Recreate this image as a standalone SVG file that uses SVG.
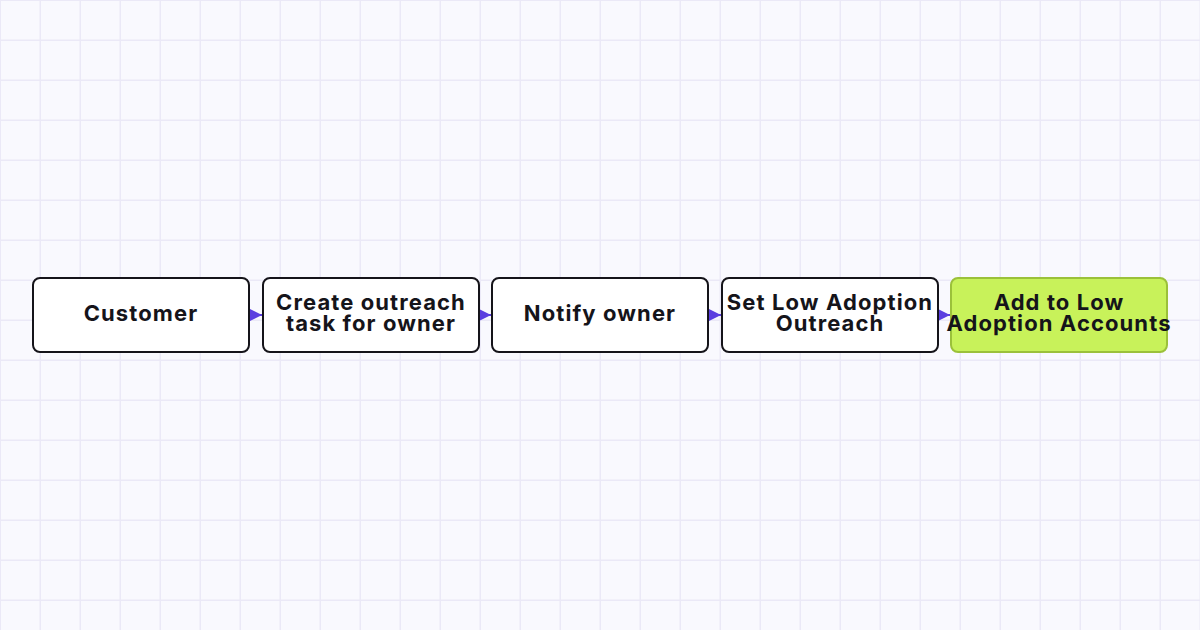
<svg xmlns="http://www.w3.org/2000/svg" width="1200" height="630" viewBox="0 0 1200 630">
<defs>
<pattern id="grid" width="40" height="40" patternUnits="userSpaceOnUse">
<rect width="40" height="40" fill="#f9f9fe"/>
<path d="M40 0V40M0 40H40" fill="none" stroke="#ebe9f7" stroke-width="1"/>
<path d="M0.5 0V40M0 0.5H40" fill="none" stroke="#ebe9f7" stroke-width="1"/>
</pattern>
<marker id="arr" viewBox="0 0 10 10" refX="10" refY="5" markerWidth="12" markerHeight="12" markerUnits="userSpaceOnUse" orient="auto">
<path d="M0 0L10 5L0 10Z" fill="#5b3fe0"/>
</marker>
</defs>
<style>
.n{fill:#fff;stroke:#15141a;stroke-width:2}
.g{fill:#c8f25a;stroke:#9bc13a;stroke-width:2}
.t{font-family:Inter,"Liberation Sans",sans-serif;font-weight:700;font-size:22px;letter-spacing:1.1px;fill:#15141a;text-anchor:middle}
.c{stroke:#5b3fe0;stroke-width:2;fill:none}
</style>
<rect width="1200" height="630" fill="url(#grid)"/>
<g id="connectors">
<path class="c" d="M249 315H262" marker-end="url(#arr)"/>
<path class="c" d="M479 315H491" marker-end="url(#arr)"/>
<path class="c" d="M708 315H721" marker-end="url(#arr)"/>
<path class="c" d="M938 315H950" marker-end="url(#arr)"/>
</g>
<g id="n1"><rect class="n" x="33" y="278" width="216" height="74" rx="7"/><text class="t" x="141" y="321">Customer</text></g>
<g id="n2"><rect class="n" x="263" y="278" width="216" height="74" rx="7"/><text class="t" x="371" y="310">Create outreach</text><text class="t" x="371" y="331">task for owner</text></g>
<g id="n3"><rect class="n" x="492" y="278" width="216" height="74" rx="7"/><text class="t" x="600" y="321">Notify owner</text></g>
<g id="n4"><rect class="n" x="722" y="278" width="216" height="74" rx="7"/><text class="t" x="830" y="310">Set Low Adoption</text><text class="t" x="830" y="331">Outreach</text></g>
<g id="n5"><rect class="g" x="951" y="278" width="216" height="74" rx="7"/><text class="t" x="1059" y="310">Add to Low</text><text class="t" x="1059" y="331">Adoption Accounts</text></g>
</svg>
